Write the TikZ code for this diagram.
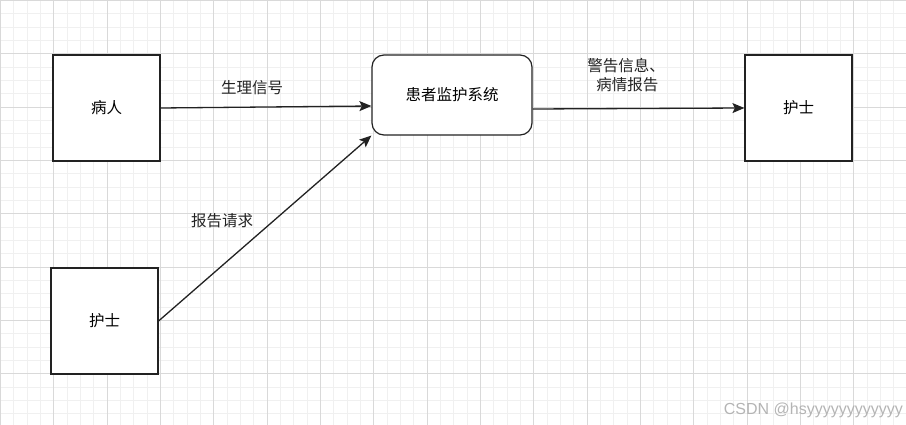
\documentclass[tikz,border=0pt]{standalone}
\usepackage{fontspec}
\setmainfont{Liberation Sans}
\newfontfamily\cjk{Noto Sans CJK SC}
\usetikzlibrary{arrows.meta}

\definecolor{gridminor}{HTML}{F0F0F0}
\definecolor{gridmajor}{HTML}{D9D9D9}
\definecolor{boxline}{HTML}{222222}
\definecolor{markgray}{HTML}{B4B4B4}

\tikzset{
    entity/.style={rectangle, draw=boxline, line width=1.2pt, fill=white, minimum width=107pt, minimum height=106pt, font=\cjk\fontsize{15.5}{18}\selectfont},
    process/.style={rectangle, draw=boxline, line width=1.2pt, fill=white, rounded corners=12pt, minimum width=160pt, minimum height=80pt, font=\cjk\fontsize{15.5}{18}\selectfont},
    flow/.style={draw=boxline, line width=1.3pt, -{Stealth[length=12pt, width=10pt, inset=2.5pt]}},
    flowlabel/.style={font=\cjk\fontsize{15.5}{19}\selectfont, text=boxline, align=center, inner sep=0pt}
}

\begin{document}
\begin{tikzpicture}[x=1pt, y=-1pt]
    \useasboundingbox (0,0) rectangle (906,425);

    % Grid, snapped to whole pixels
    \foreach \i in {0,1,...,68} {
        \pgfmathsetmacro{\gx}{round(\i*13.333)+0.5}
        \draw[gridminor, line width=1pt] (\gx,0) -- (\gx,425);
    }
    \foreach \i in {0,1,...,32} {
        \pgfmathsetmacro{\gy}{round(\i*13.333)+0.5}
        \draw[gridminor, line width=1pt] (0,\gy) -- (906,\gy);
    }
    \foreach \i in {0,1,...,17} {
        \pgfmathsetmacro{\gx}{round(\i*53.333)+0.5}
        \draw[gridmajor, line width=1pt] (\gx,0) -- (\gx,425);
    }
    \foreach \i in {0,1,...,7} {
        \pgfmathsetmacro{\gy}{round(\i*53.333)+0.5}
        \draw[gridmajor, line width=1pt] (0,\gy) -- (906,\gy);
    }

    % External entities
    \node[entity] (PAT) at (106.5,108) {病人};
    \node[entity] (NURSEL) at (104.5,321) {护士};
    \node[entity] (NURSER) at (798.5,108) {护士};

    % System
    \node[process] (SYS) at (452,95) {患者监护系统};

    % Data flows
    \draw[flow] (PAT.east) -- ([yshift=-11pt]SYS.west);
    \draw[flow] ([yshift=-14pt]SYS.east) -- (NURSER.west);
    \draw[flow] (NURSEL.east) -- (SYS.south west);

    % Flow labels
    \node[flowlabel] (LSIG) at (252,88) {生理信号};
    \node[flowlabel] (LWARN) at (626,75) {警告信息、\\\,病情报告};
    \node[flowlabel] (LREQ) at (222,221) {报告请求};

    % Watermark
    \node[font=\fontsize{16}{18}\selectfont, text=markgray, inner sep=0pt, anchor=east] (MARK) at (903,410) {CSDN @hsyyyyyyyyyyyy};
\end{tikzpicture}
\end{document}
